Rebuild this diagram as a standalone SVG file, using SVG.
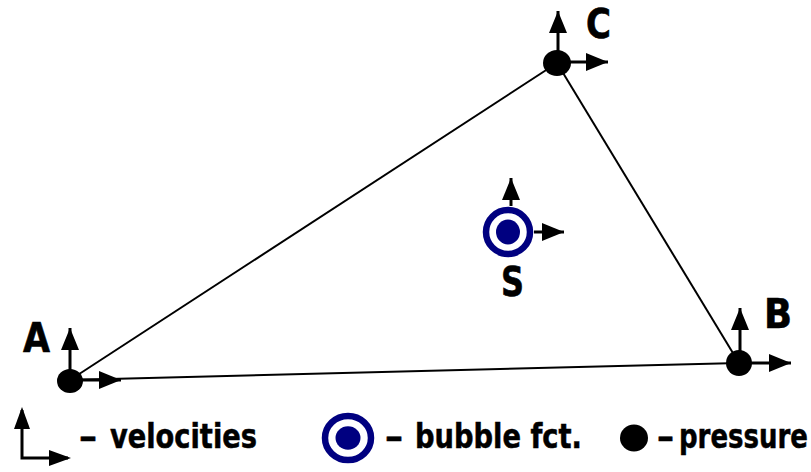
<svg xmlns="http://www.w3.org/2000/svg" width="811" height="472" viewBox="0 0 811 472">
<style>
.edge{stroke:#000;stroke-width:2;fill:none}
.vel{stroke:#000;stroke-width:3;fill:none;marker-end:url(#ah)}
.p{fill:#000}
.ring{fill:none;stroke:#000080;stroke-width:6.5}
.dot{fill:#000080}
.lbl{font-family:"DejaVu Sans Condensed","DejaVu Sans",sans-serif;font-weight:bold;font-size:41px;fill:#000;stroke:#000;stroke-width:0.6}
.leg{font-family:"DejaVu Sans Condensed","DejaVu Sans",sans-serif;font-weight:bold;font-size:34px;fill:#000;stroke:#000;stroke-width:0.5}
</style>
<defs>
<marker id="ah" markerUnits="userSpaceOnUse" markerWidth="24" markerHeight="20" refX="22" refY="9" orient="auto">
<path d="M0,0 L22,9 L0,18 z" fill="#000"/>
</marker>
</defs>
<g id="connectors">
<line class="edge" x1="70" y1="380" x2="557" y2="63"/>
<line class="edge" x1="557" y1="63" x2="739" y2="363"/>
<line class="edge" x1="70" y1="380" x2="739" y2="363"/>
</g>
<g id="A">
<line class="vel" x1="70" y1="380" x2="70" y2="328"/>
<line class="vel" x1="70" y1="380" x2="121" y2="380"/>
<ellipse class="p" cx="70" cy="381" rx="13" ry="12"/>
<text class="lbl" x="23" y="352" textLength="27" lengthAdjust="spacingAndGlyphs">A</text>
</g>
<g id="B">
<line class="vel" x1="740" y1="363" x2="740" y2="308"/>
<line class="vel" x1="740" y1="363" x2="791" y2="363"/>
<ellipse class="p" cx="739" cy="363" rx="13" ry="13"/>
<text class="lbl" x="764" y="328" textLength="28" lengthAdjust="spacingAndGlyphs">B</text>
</g>
<g id="C">
<line class="vel" x1="558" y1="63" x2="558" y2="11"/>
<line class="vel" x1="558" y1="62" x2="608" y2="62"/>
<ellipse class="p" cx="557" cy="63" rx="14" ry="13"/>
<text class="lbl" x="586" y="38" font-size="40" textLength="25" lengthAdjust="spacingAndGlyphs">C</text>
</g>
<g id="S">
<line class="vel" x1="511" y1="206" x2="511" y2="178"/>
<line class="vel" x1="534" y1="232" x2="564" y2="232"/>
<circle class="ring" cx="508" cy="232" r="22"/>
<ellipse class="dot" cx="508" cy="232" rx="12" ry="12.5"/>
<text class="lbl" x="501" y="296" textLength="23" lengthAdjust="spacingAndGlyphs">S</text>
</g>
<g id="legend">
<path d="M22,410 L22,458 L68,458" stroke="#000" stroke-width="3" fill="none"/>
<path d="M22,407 L30,429 L14,429 z" fill="#000"/>
<path d="M71,458 L49,450 L49,466 z" fill="#000"/>
<text class="leg" x="79" y="448" textLength="18" lengthAdjust="spacingAndGlyphs">–</text>
<text class="leg" x="110" y="448" textLength="147" lengthAdjust="spacingAndGlyphs">velocities</text>
<ellipse class="ring" cx="348" cy="438" rx="23" ry="22"/>
<ellipse class="dot" cx="348" cy="438" rx="12.5" ry="11.7"/>
<text class="leg" x="385" y="448" textLength="18" lengthAdjust="spacingAndGlyphs">–</text>
<text class="leg" x="415" y="448" textLength="167" lengthAdjust="spacingAndGlyphs">bubble fct.</text>
<ellipse class="p" cx="634" cy="438" rx="14" ry="13.5"/>
<text class="leg" x="657" y="448" textLength="17" lengthAdjust="spacingAndGlyphs">–</text>
<text class="leg" transform="translate(679,448) scale(0.85,1)">pressure</text>
</g>
</svg>
